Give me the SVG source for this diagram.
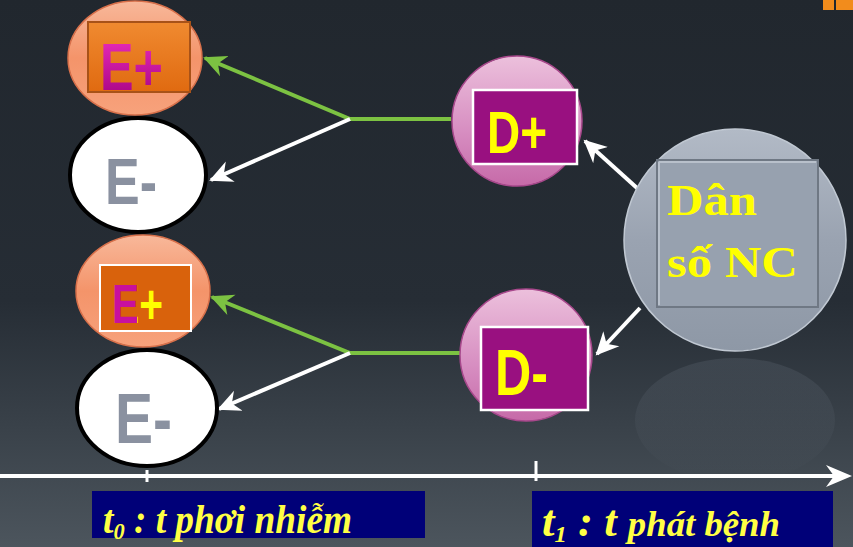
<svg xmlns="http://www.w3.org/2000/svg" width="853" height="547" viewBox="0 0 853 547">
<defs>
<style>
.sans{font-family:"Liberation Sans","DejaVu Sans",sans-serif;font-weight:bold}
.serif{font-family:"Liberation Serif","DejaVu Serif",serif;font-weight:bold}
.green{stroke:#7cc242;stroke-width:4;fill:none}
.white{stroke:#ffffff;stroke-width:4;fill:none}
.dtext{fill:#ffff00}
.label{fill:#ffff44;font-style:italic}
.lbox{fill:#000078}
</style>
<linearGradient id="bg" x1="0" y1="0" x2="0" y2="1">
<stop offset="0" stop-color="#21272e"/>
<stop offset="0.55" stop-color="#262d35"/>
<stop offset="1" stop-color="#4c555d"/>
</linearGradient>
<linearGradient id="salmon" x1="0" y1="0" x2="0" y2="1">
<stop offset="0" stop-color="#f8b89a"/>
<stop offset="0.5" stop-color="#f4946a"/>
<stop offset="1" stop-color="#f7a27c"/>
</linearGradient>
<linearGradient id="pink" x1="0" y1="0" x2="0" y2="1">
<stop offset="0" stop-color="#ecc0dc"/>
<stop offset="0.6" stop-color="#d68cc0"/>
<stop offset="1" stop-color="#c66aa8"/>
</linearGradient>
<linearGradient id="gray" x1="0" y1="0" x2="0" y2="1">
<stop offset="0" stop-color="#b2bac6"/>
<stop offset="0.5" stop-color="#9aa3b1"/>
<stop offset="1" stop-color="#8e98a6"/>
</linearGradient>
<linearGradient id="orange" x1="0" y1="0" x2="0" y2="1">
<stop offset="0" stop-color="#f08a30"/>
<stop offset="1" stop-color="#e06a10"/>
</linearGradient>
<linearGradient id="mag" x1="0" y1="0" x2="0" y2="1">
<stop offset="0" stop-color="#f030c0"/>
<stop offset="1" stop-color="#a0007e"/>
</linearGradient>
<linearGradient id="magyel" gradientUnits="userSpaceOnUse" x1="112" y1="0" x2="163" y2="0">
<stop offset="0" stop-color="#c8109e"/>
<stop offset="0.5" stop-color="#c8109e"/>
<stop offset="0.5" stop-color="#ffff00"/>
<stop offset="1" stop-color="#ffff00"/>
</linearGradient>
<linearGradient id="refl" x1="0" y1="0" x2="0" y2="1">
<stop offset="0" stop-color="#8a94a2" stop-opacity="0.16"/>
<stop offset="1" stop-color="#8a94a2" stop-opacity="0"/>
</linearGradient>
<marker id="ahG" markerUnits="userSpaceOnUse" markerWidth="24" markerHeight="24" refX="21" refY="11" orient="auto" viewBox="0 0 24 22">
<path d="M0,0 L23,11 L0,22 L7,11 z" fill="#7cc242"/>
</marker>
<marker id="ahW" markerUnits="userSpaceOnUse" markerWidth="24" markerHeight="24" refX="21" refY="11" orient="auto" viewBox="0 0 24 22">
<path d="M0,0 L23,11 L0,22 L7,11 z" fill="#ffffff"/>
</marker>
</defs>

<rect x="0" y="0" width="853" height="547" fill="url(#bg)"/>
<rect x="823" y="0" width="11" height="10" fill="#f28c1c"/>
<rect x="836" y="0" width="17" height="10" fill="#f28c1c"/>

<g id="connectors">
<path class="green" d="M451,119 H350 L205,58" marker-end="url(#ahG)"/>
<path class="white" d="M350,119 L211,180" marker-end="url(#ahW)"/>
<path class="green" d="M460,353 H350 L212,297" marker-end="url(#ahG)"/>
<path class="white" d="M350,353 L219,409" marker-end="url(#ahW)"/>
<path class="white" d="M637,188 L585,141" marker-end="url(#ahW)"/>
<path class="white" d="M640,308 L597,354" marker-end="url(#ahW)"/>
</g>

<g id="axis">
<line x1="0" y1="476" x2="840" y2="476" stroke="#ffffff" stroke-width="4"/>
<path d="M826,465 L852,476 L826,487 L834,476 z" fill="#ffffff"/>
<line x1="147" y1="470" x2="147" y2="482" stroke="#ffffff" stroke-width="3"/>
<line x1="536" y1="461" x2="536" y2="481" stroke="#ffffff" stroke-width="3"/>
</g>

<g id="eplus1">
<ellipse cx="135" cy="58" rx="67" ry="57" fill="url(#salmon)" stroke="#d8704a" stroke-width="1.5"/>
<rect x="88" y="22" width="102" height="70" fill="url(#orange)" stroke="#a85218" stroke-width="2"/>
<text class="sans" x="100" y="90" font-size="66" textLength="63" lengthAdjust="spacingAndGlyphs" fill="url(#mag)">E+</text>
</g>

<g id="eminus1">
<ellipse cx="138" cy="175" rx="68" ry="57" fill="#ffffff" stroke="#000000" stroke-width="4"/>
<text class="sans" x="105" y="204" font-size="64" textLength="52" lengthAdjust="spacingAndGlyphs" fill="#8a91a0">E-</text>
</g>

<g id="eplus2">
<ellipse cx="143" cy="291" rx="67" ry="56" fill="url(#salmon)" stroke="#d8704a" stroke-width="1.5"/>
<rect x="100" y="265" width="91" height="66" fill="#d9620c" stroke="#ffffff" stroke-width="2"/>
<text class="sans" x="112" y="323" font-size="56" textLength="51" lengthAdjust="spacingAndGlyphs" fill="url(#magyel)">E+</text>
</g>

<g id="eminus2">
<ellipse cx="147" cy="408" rx="70" ry="58" fill="#ffffff" stroke="#000000" stroke-width="4"/>
<text class="sans" x="115" y="443" font-size="70" textLength="57" lengthAdjust="spacingAndGlyphs" fill="#8a91a0">E-</text>
</g>

<g id="dplus">
<circle cx="517" cy="121" r="65" fill="url(#pink)" stroke="#a8488c" stroke-width="1.5"/>
<rect x="473" y="90" width="104" height="74" fill="#991080" stroke="#ffffff" stroke-width="2.5"/>
<text class="sans dtext" x="487" y="153" font-size="60" textLength="60" lengthAdjust="spacingAndGlyphs">D+</text>
</g>

<g id="dminus">
<circle cx="526" cy="355" r="66" fill="url(#pink)" stroke="#a8488c" stroke-width="1.5"/>
<rect x="481" y="327" width="107" height="83" fill="#991080" stroke="#ffffff" stroke-width="2.5"/>
<text class="sans dtext" x="495" y="395" font-size="64" textLength="53" lengthAdjust="spacingAndGlyphs">D-</text>
</g>

<g id="danso">
<ellipse cx="735" cy="420" rx="100" ry="62" fill="url(#refl)"/>
<circle cx="735" cy="240" r="111" fill="url(#gray)" stroke="#c0c8d2" stroke-width="1.5"/>
<rect x="657" y="160" width="161" height="147" fill="#97a1af" stroke="#6f7884" stroke-width="2"/>
<path d="M659,162 H816 M659,162 V305" stroke="#b8c0cb" stroke-width="2" fill="none"/>
<text class="serif dtext" x="667" y="215" font-size="44" textLength="90" lengthAdjust="spacingAndGlyphs">Dân</text>
<text class="serif dtext" x="667" y="277" font-size="44" textLength="131" lengthAdjust="spacingAndGlyphs">số NC</text>
</g>

<g id="t0label">
<rect class="lbox" x="92" y="491" width="333" height="47"/>
<text class="serif label" x="103" y="533" font-size="40" textLength="249" lengthAdjust="spacingAndGlyphs">t<tspan font-size="24" dy="6">0</tspan><tspan dy="-6"> : t phơi nhiễm</tspan></text>
</g>

<g id="t1label">
<rect class="lbox" x="532" y="491" width="301" height="56"/>
<text class="serif label" x="542" y="536" font-size="44" textLength="238" lengthAdjust="spacingAndGlyphs">t<tspan font-size="24" dy="6">1</tspan><tspan dy="-6"> : t </tspan><tspan font-size="36">phát bệnh</tspan></text>
</g>
</svg>
